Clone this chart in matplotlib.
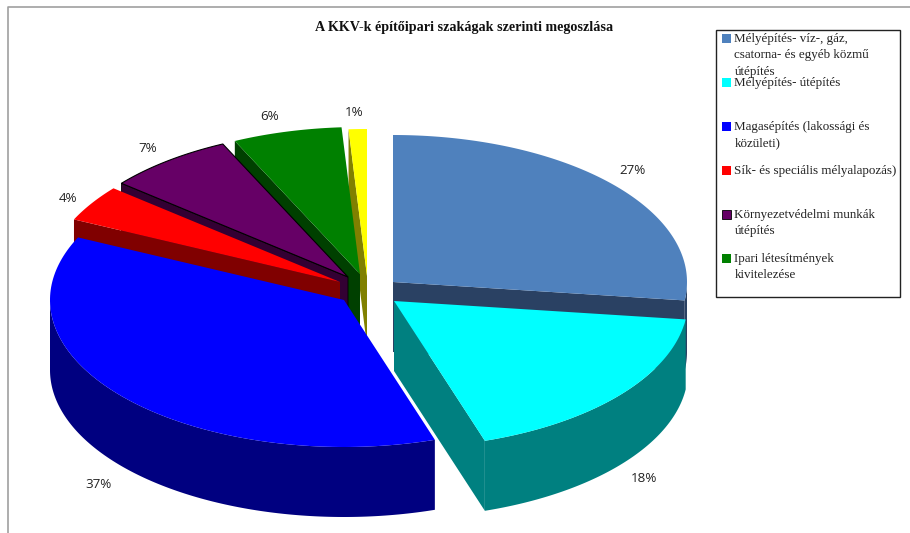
import matplotlib
matplotlib.use("Agg")
import matplotlib.pyplot as plt
from matplotlib.patches import Polygon, Rectangle
import numpy as np

# Chart data
title = "A KKV-k építőipari szakágak szerinti megoszlása"
values = [27, 18, 37, 4, 7, 6, 1]
legendLabels = [
    "Mélyépítés- víz-, gáz,\ncsatorna- és egyéb közmű\nútépítés",
    "Mélyépítés- útépítés",
    "Magasépítés (lakossági és\nközületi)",
    "Sík- és speciális mélyalapozás)",
    "Környezetvédelmi munkák\nútépítés",
    "Ipari létesítmények\nkivitelezése",
]
topColors = ["#4F81BD", "#00FFFF", "#0000FF", "#FF0000", "#660066", "#008000", "#FFFF00"]
sideColors = ["#2A4163", "#008080", "#000080", "#800000", "#330033", "#004000", "#808000"]

# Layout, all in picture pixels
apexX = [393, 394, 344, 340, 348, 360, 367]
apexY = [282, 301, 300, 282, 277, 274, 276]
labelX = [633, 644, 99, 68, 148, 270, 354]
labelY = [171, 479, 485, 198, 149, 117, 113]
legendY = [38, 82, 126, 170, 214, 258]
radius = 294
tilt = 0.5
depth = 70


def rim(i, a0, a1):
    # points on the rim of slice i, angles clockwise from the top
    a = np.radians(np.linspace(a0, a1, 120))
    return np.column_stack((apexX[i] + radius * np.sin(a),
                            apexY[i] - radius * tilt * np.cos(a)))


def drop(points):
    return points + np.array([0, depth])


fig = plt.figure(figsize=(9.1, 5.33), dpi=100)
ax = fig.add_axes([0, 0, 1, 1])
ax.set_xlim(0, 910)
ax.set_ylim(533, 0)
ax.axis("off")

# Frame, only top and left are in the picture
ax.plot([8, 8, 910], [533, 7, 7], color="#A0A0A0", lw=1.2)

edges = np.concatenate(([0], np.cumsum(values))) * 360 / sum(values)

# Back slices first, so nearer ones paint over them
for i in [6, 5, 4, 3, 2, 0, 1]:
    a0, a1 = edges[i], edges[i + 1]
    outer = rim(i, a0, a1)
    apex = np.array([[apexX[i], apexY[i]]])
    lineColor = "black" if i == 4 else "none"

    # cut faces, the one that looks towards the viewer
    if a0 > 180:
        cut = np.vstack((apex, outer[:1]))
    else:
        cut = np.vstack((apex, outer[-1:]))
    if i != 2:
        ax.add_patch(Polygon(np.vstack((cut, drop(cut)[::-1])),
                             facecolor=sideColors[i], edgecolor=lineColor, lw=0.6))

    # outer wall, only the front half of the pie
    lo, hi = max(a0, 90), min(a1, 270)
    if lo < hi:
        wall = rim(i, lo, hi)
        ax.add_patch(Polygon(np.vstack((wall, drop(wall)[::-1])),
                             facecolor=sideColors[i], edgecolor="none"))

    ax.add_patch(Polygon(np.vstack((apex, outer)),
                         facecolor=topColors[i], edgecolor=lineColor, lw=0.8))

for i, v in enumerate(values):
    ax.text(labelX[i], labelY[i], f"{v}%", ha="center", va="center",
            family="Open Sans", fontsize=9.6, color="#222222")

ax.text(464, 27, title, ha="center", va="center", family="Liberation Serif",
        weight="bold", fontsize=10.2, color="#111111")

# Legend box
ax.add_patch(Rectangle((716, 29.5), 184, 267.5, facecolor="white",
                       edgecolor="#222222", lw=1))
for i, label in enumerate(legendLabels):
    ax.add_patch(Rectangle((722, legendY[i] - 4), 9, 9, facecolor=topColors[i],
                           edgecolor="black" if i == 4 else "none", lw=0.6))
    ax.text(734.5, legendY[i] - 5, label, ha="left", va="top", family="Liberation Serif",
            fontsize=9.4, linespacing=1.48, color="#222222")

fig.savefig("out.png", dpi=100)
